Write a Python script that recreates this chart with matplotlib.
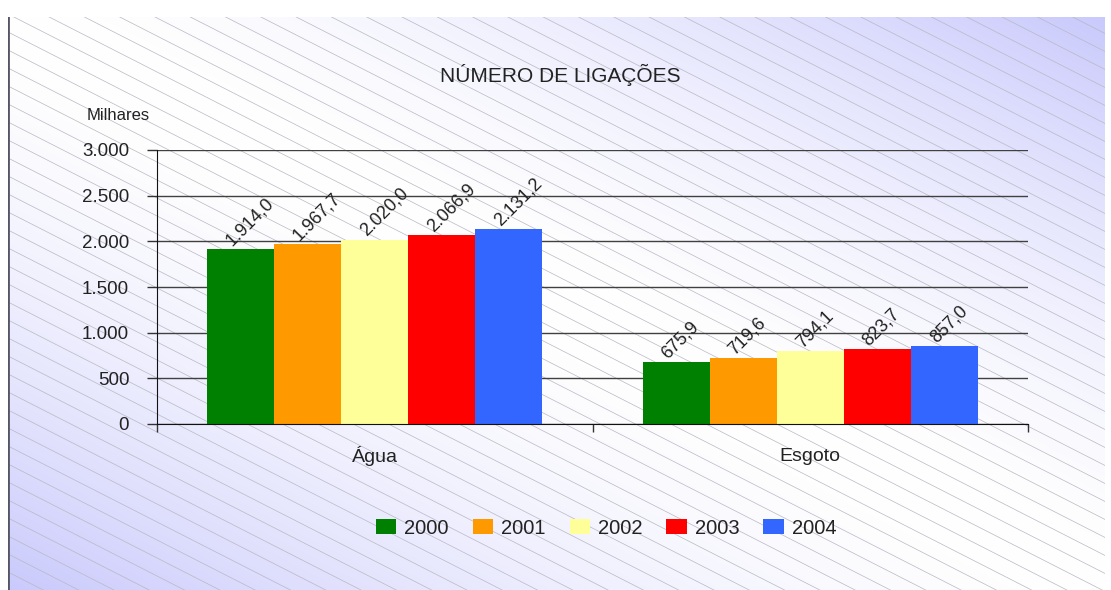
import matplotlib.pyplot as plt
import numpy as np

plt.rcParams['font.family'] = ['Liberation Sans', 'DejaVu Sans']

# data (thousands of connections)
categories = ['Água', 'Esgoto']
years = ['2000', '2001', '2002', '2003', '2004']
agua = [1914.0, 1967.7, 2020.0, 2066.9, 2131.2]
esgoto = [675.9, 719.6, 794.1, 823.7, 857.0]
colors = ['#008000', '#FF9900', '#FFFF99', '#FF0000', '#3366FF']
yticks = [0, 500, 1000, 1500, 2000, 2500, 3000]


def fmt_br(v, dec=0):
    s = f"{v:,.{dec}f}"
    return s.replace(',', 'X').replace('.', ',').replace('X', '.')


fig = plt.figure(figsize=(11.11, 5.9), dpi=100)
W, H = 1111, 590

# background panel: diagonal gradient + thin hatch lines
px0, py0, px1, py1 = 8, 17, 1105, 590
bg = fig.add_axes([px0 / W, 0, (px1 - px0) / W, (py1 - py0) / H], zorder=0)
pw, ph = px1 - px0, py1 - py0
u = np.linspace(0, 1, 400)
v = np.linspace(0, 1, 300)
U, V = np.meshgrid(u, v)
t = np.clip(np.abs(U + V - 1.0), 0, 1) ** 1.6
lav = np.array([0.79, 0.79, 0.99])
img = np.ones((300, 400, 3)) * (1 - t[..., None]) + lav * t[..., None]
bg.imshow(img, extent=[0, pw, 0, ph], origin='lower', aspect='auto')
slope = -0.51
for c in np.arange(0, ph + pw * 0.51 + 18, 18):
    xs = np.array([0, pw])
    bg.plot(xs, c + slope * xs, color='#b8b8c4', lw=0.5)
bg.axvline(0, color='#555566', lw=2)
bg.set_xlim(0, pw)
bg.set_ylim(0, ph)
bg.axis('off')

# main chart
ax = fig.add_axes([157 / W, 1 - 424 / H, (1028 - 157) / W, (424 - 150) / H], zorder=1)
ax.patch.set_alpha(0)
x = np.arange(len(categories))
bw = 0.154
n = len(years)
for i, yr in enumerate(years):
    vals = [agua[i], esgoto[i]]
    pos = x + (i - (n - 1) / 2) * bw
    ax.bar(pos, vals, width=bw, color=colors[i], label=yr, zorder=2)
    for xp, val in zip(pos, vals):
        ax.annotate(fmt_br(val, 1), (xp, val), xytext=(-4, 0), textcoords='offset points',
                    rotation=45, rotation_mode='anchor', ha='left', va='bottom',
                    fontsize=13, color='#222222', zorder=3)

ax.set_xlim(-0.5, 1.5)
ax.set_ylim(0, 3000)
ax.set_yticks(yticks)
ax.set_yticklabels([fmt_br(t_) for t_ in yticks], fontsize=13.5, color='#222222')
ax.yaxis.grid(True, color='#404040', lw=1, zorder=1)
ax.set_axisbelow(True)
ax.tick_params(axis='y', length=7, width=1, pad=13, color='#333333')
ax.set_xticks([-0.5, 0.5, 1.5])
ax.set_xticklabels([])
ax.tick_params(axis='x', length=6, width=1, color='#333333')
for xc, name in zip(x, categories):
    ax.text(xc, -0.117, name, transform=ax.get_xaxis_transform(), ha='center', va='center',
            fontsize=14, color='#222222')
for s in ['top', 'right']:
    ax.spines[s].set_visible(False)
ax.spines['left'].set_color('#111111')
ax.spines['bottom'].set_color('#111111')

fig.text(560 / W, 1 - 75 / H, 'NÚMERO DE LIGAÇÕES', ha='center', va='center',
         fontsize=15, color='#222222')
fig.text(118 / W, 1 - 115 / H, 'Milhares', ha='center', va='center',
         fontsize=12, color='#222222')

fig.legend(loc='center', bbox_to_anchor=(606 / W, 1 - 528 / H), ncol=5, frameon=False,
           fontsize=14.5, handlelength=1.0, handleheight=0.7, handletextpad=0.4,
           columnspacing=1.2, labelcolor='#222222')

fig.savefig('out.png', dpi=100, facecolor='white')
